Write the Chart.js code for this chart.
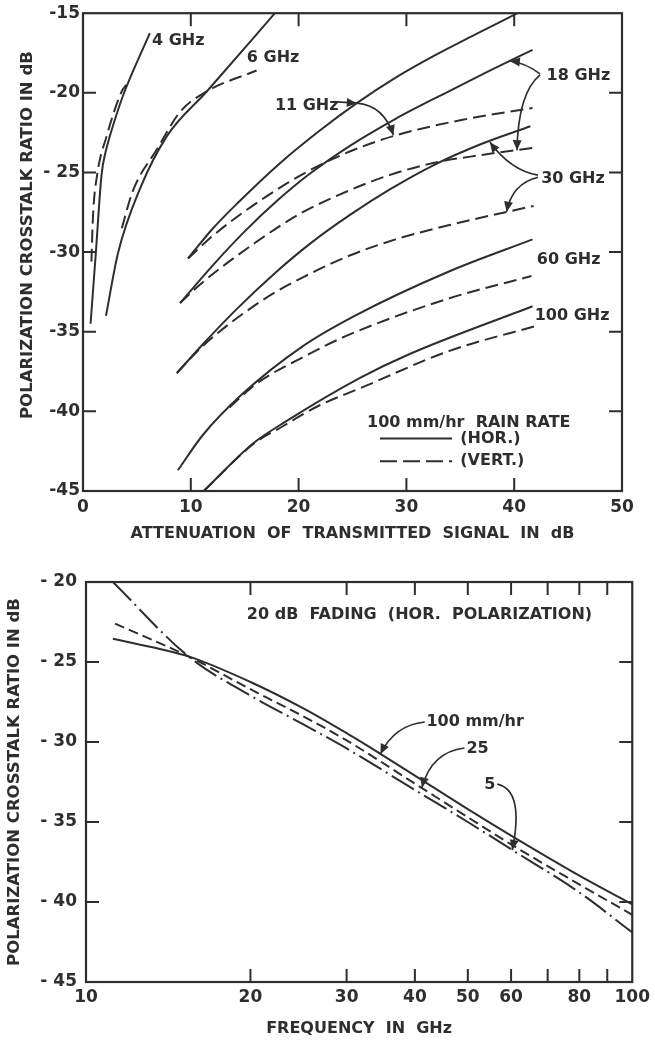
<!DOCTYPE html>
<html>
<head>
<meta charset="utf-8">
<script src="https://cdn.jsdelivr.net/npm/chart.js@4/dist/chart.umd.min.js"></script>
<style>
  html, body { margin: 0; padding: 0; background: #ffffff; }
  #wrap { position: relative; width: 655px; height: 1040px; }
  .panel { position: absolute; left: 0; width: 655px; }
</style>
</head>
<body>
<div id="wrap">
  <div class="panel" style="top:0;height:550px"><canvas id="attChart" width="655" height="550"></canvas></div>
  <div class="panel" style="top:550px;height:490px"><canvas id="freqChart" width="655" height="490"></canvas></div>
</div>
<script>
// ---------- Upper panel: crosstalk vs. attenuation, 100 mm/hr rain ----------
// H = horizontal polarization (solid), V = vertical polarization (dashed)
const att4H   = [0.7, 1.18, 1.72, 2.1, 2.5, 3.7, 6.2];
const xpd4H   = [-34.5, -30.15, -25.15, -23.7, -22.7, -20.2, -16.25];
const att4V   = [0.78, 0.93, 1.3, 2.2, 3.6, 4.0];
const xpd4V   = [-30.6, -27.7, -25.2, -22.7, -19.9, -19.5];
const att6H   = [2.13, 3.25, 5.3, 7.8, 11.5, 17.8];
const xpd6H   = [-34.0, -30.05, -26.0, -22.7, -19.9, -15.0];
const att6V   = [3.6, 4.6, 6.9, 9.0, 11.5, 16.1];
const xpd6V   = [-28.5, -26.2, -23.5, -21.2, -19.9, -18.6];
const att11H  = [9.74, 12.0, 14.3, 18.3, 22.0, 25.4, 29.0, 32.5, 36.5, 40.3];
const xpd11H  = [-30.4, -28.55, -26.95, -24.4, -22.35, -20.65, -19.05, -17.7, -16.3, -15.0];
const att11V  = [9.74, 12.0, 15.0, 18.9, 21.7, 24.8, 28.8, 35.0, 41.7];
const xpd11V  = [-30.4, -29.0, -27.44, -25.69, -24.63, -23.67, -22.71, -21.72, -20.95];
const att18H  = [9.0, 12.0, 15.0, 18.0, 21.0, 24.8, 29.0, 33.8, 37.5, 41.7];
const xpd18H  = [-33.2, -30.86, -28.7, -26.78, -25.1, -23.31, -21.63, -19.95, -18.69, -17.3];
const att18V  = [9.0, 11.0, 16.0, 20.1, 24.8, 28.5, 32.5, 37.0, 41.8];
const xpd18V  = [-33.2, -31.95, -29.4, -27.6, -26.1, -25.15, -24.4, -23.9, -23.45];
const att30H  = [8.7, 11.1, 14.3, 18.0, 21.1, 24.8, 28.5, 32.5, 37.0, 41.5];
const xpd30H  = [-37.6, -35.8, -33.55, -31.2, -29.45, -27.65, -26.05, -24.55, -23.2, -22.1];
const att30V  = [8.7, 11.1, 16.7, 20.5, 24.8, 29.0, 34.0, 41.8];
const xpd30V  = [-37.6, -35.9, -33.0, -31.55, -30.2, -29.2, -28.3, -27.1];
const att60H  = [8.8, 11.1, 14.8, 20.4, 25.2, 34.0, 41.7];
const xpd60H  = [-43.7, -41.5, -38.9, -35.9, -34.0, -31.2, -29.2];
const att60V  = [13.6, 16.0, 20.4, 24.8, 34.0, 41.6];
const xpd60V  = [-39.75, -38.3, -36.6, -35.15, -32.9, -31.5];
const att100H = [11.2, 15.8, 18.9, 25.7, 30.3, 41.7];
const xpd100H = [-45.0, -42.0, -40.6, -37.9, -36.4, -33.4];
const att100V = [11.2, 15.8, 18.5, 22.0, 25.7, 34.0, 42.2];
const xpd100V = [-45.0, -42.05, -40.95, -39.6, -38.55, -36.2, -34.6];

const attTicks   = [0, 10, 20, 30, 40, 50];
const attLabels  = ['0', '10', '20', '30', '40', '50'];
const xpdTicksA  = [-45, -40, -35, -30, -25, -20, -15];
const xpdLabelsA = ['-45', '-40', '-35', '-30', '- 25', '-20', '-15'];

// ---------- Lower panel: crosstalk vs. frequency, 20 dB fading (hor.) ----------
const freq100 = [11.2, 15.4, 20, 25, 30, 35, 40, 50, 60, 80, 100];
const xpdR100 = [-23.55, -24.65, -26.25, -27.9, -29.45, -30.85, -32.1, -34.2, -35.85, -38.35, -40.15];
const freq25  = [11.3, 15.4, 20, 25, 30, 40, 50, 60, 80, 100];
const xpdR25  = [-22.6, -24.65, -26.7, -28.4, -29.9, -32.6, -34.7, -36.4, -38.9, -40.8];
const freq5   = [11.2, 15.4, 20, 25, 30, 40, 50, 60, 80, 100];
const xpdR5   = [-20.0, -24.65, -27.1, -28.9, -30.4, -33.0, -35.0, -36.7, -39.4, -41.9];

const freqTicks  = [10, 20, 30, 40, 50, 60, 70, 80, 90, 100];
const freqLabels = ['10', '20', '30', '40', '50', '60', '', '80', '', '100'];
const xpdTicksB  = [-45, -40, -35, -30, -25, -20];
const xpdLabelsB = ['- 45', '- 40', '- 35', '- 30', '- 25', '- 20'];

// ---------- shared styling ----------
const INK = '#2e2e2e';
const FONT = '"DejaVu Sans", Verdana, sans-serif';
const DASH_A = [13, 6];
const DASH_B = [10, 5];
const DASH_DOT = [26, 5, 2, 5];
const tickFont = { family: FONT, size: 17, weight: 'bold' };
const titleFont = { family: FONT, size: 16, weight: 'bold' };

const pts = (xs, ys) => xs.map((v, i) => ({ x: v, y: ys[i] }));
function curve(xs, ys, dash) {
  return {
    data: pts(xs, ys), borderColor: INK, borderWidth: 2, borderDash: dash || [],
    pointRadius: 0, fill: false, cubicInterpolationMode: 'monotone'
  };
}

function axis(type, ticks, labels, pos, size, pad, title) {
  const s = {
    type, position: pos, min: ticks[0], max: ticks[ticks.length - 1],
    afterBuildTicks: sc => { sc.ticks = ticks.map(v => ({ value: v })); },
    afterFit: sc => { if (pos === 'left') sc.width = size; else sc.height = size; },
    ticks: {
      autoSkip: false, maxRotation: 0, padding: pad, color: INK, font: tickFont,
      callback: v => { const i = ticks.indexOf(v); return i < 0 ? '' : labels[i]; }
    },
    grid: { display: false, drawTicks: false },
    border: { display: false }
  };
  if (title) s.title = { display: true, text: title.text, color: INK, font: titleFont, padding: { top: 0, bottom: title.pb } };
  return s;
}

// Frame, inward tick marks, curve labels, leader arrows, key and vertical axis title
const decor = {
  id: 'decor',
  afterDatasetsDraw(chart, args, o) {
    const { ctx, chartArea: a, scales: { x, y } } = chart;
    const X = v => x.getPixelForValue(v);
    const Y = v => y.getPixelForValue(v);
    ctx.save();
    ctx.strokeStyle = INK; ctx.fillStyle = INK; ctx.lineCap = 'butt';

    ctx.lineWidth = 2.2;
    ctx.strokeRect(a.left, a.top, a.right - a.left, a.bottom - a.top);

    ctx.lineWidth = 2;
    ctx.beginPath();
    x.ticks.forEach(t => {
      if (t.value <= x.min || t.value >= x.max) return;
      const px = X(t.value);
      ctx.moveTo(px, a.bottom); ctx.lineTo(px, a.bottom - o.tick);
      ctx.moveTo(px, a.top); ctx.lineTo(px, a.top + o.tick);
    });
    y.ticks.forEach(t => {
      if (t.value <= y.min || t.value >= y.max) return;
      const py = Y(t.value);
      ctx.moveTo(a.left, py); ctx.lineTo(a.left + o.tick, py);
      ctx.moveTo(a.right, py); ctx.lineTo(a.right - o.tick, py);
    });
    ctx.stroke();

    (o.keys || []).forEach(k => {
      ctx.lineWidth = 2; ctx.setLineDash(k.dash);
      ctx.beginPath(); ctx.moveTo(X(k.x1), Y(k.y)); ctx.lineTo(X(k.x2), Y(k.y)); ctx.stroke();
    });
    ctx.setLineDash([]);

    (o.leaders || []).forEach(l => {
      const p0 = [X(l.from[0]), Y(l.from[1])];
      const c = [X(l.ctrl[0]), Y(l.ctrl[1])];
      const p1 = [X(l.to[0]), Y(l.to[1])];
      ctx.lineWidth = 1.7;
      ctx.beginPath(); ctx.moveTo(p0[0], p0[1]); ctx.quadraticCurveTo(c[0], c[1], p1[0], p1[1]); ctx.stroke();
      const ang = Math.atan2(p1[1] - c[1], p1[0] - c[0]);
      const L = 10, W = 4.5;
      ctx.beginPath();
      ctx.moveTo(p1[0], p1[1]);
      ctx.lineTo(p1[0] - L * Math.cos(ang) + W * Math.sin(ang), p1[1] - L * Math.sin(ang) - W * Math.cos(ang));
      ctx.lineTo(p1[0] - L * Math.cos(ang) - W * Math.sin(ang), p1[1] - L * Math.sin(ang) + W * Math.cos(ang));
      ctx.closePath(); ctx.fill();
    });

    ctx.font = `bold 16px ${FONT}`;
    ctx.textBaseline = 'middle'; ctx.textAlign = 'left';
    (o.labels || []).forEach(l => ctx.fillText(l.text, X(l.x), Y(l.y)));

    const t = o.yTitle;
    ctx.save();
    ctx.font = `bold 16.5px ${FONT}`;
    ctx.translate(a.left + t.dx, (a.top + a.bottom) / 2 + t.dy);
    ctx.rotate(-Math.PI / 2);
    ctx.textAlign = 'center';
    ctx.fillText(t.text, 0, 0);
    ctx.restore();

    ctx.restore();
  }
};

const common = {
  responsive: false, animation: false, devicePixelRatio: 1,
  events: [],
  elements: { point: { radius: 0 } }
};

// ---------- upper chart ----------
new Chart(document.getElementById('attChart'), {
  type: 'line',
  data: {
    datasets: [
      curve(att4H, xpd4H), curve(att4V, xpd4V, DASH_A),
      curve(att6H, xpd6H), curve(att6V, xpd6V, DASH_A),
      curve(att11H, xpd11H), curve(att11V, xpd11V, DASH_A),
      curve(att18H, xpd18H), curve(att18V, xpd18V, DASH_A),
      curve(att30H, xpd30H), curve(att30V, xpd30V, DASH_A),
      curve(att60H, xpd60H), curve(att60V, xpd60V, DASH_A),
      curve(att100H, xpd100H), curve(att100V, xpd100V, DASH_A)
    ]
  },
  options: Object.assign({}, common, {
    layout: { padding: { top: 10, right: 33, left: 0, bottom: 0 } },
    scales: {
      x: axis('linear', attTicks, attLabels, 'bottom', 59, 6,
        { text: 'ATTENUATION  OF  TRANSMITTED  SIGNAL  IN  dB', pb: 7 }),
      y: axis('linear', xpdTicksA, xpdLabelsA, 'left', 83, 3)
    },
    plugins: {
      legend: { display: false }, tooltip: { enabled: false },
      decor: {
        tick: 13,
        yTitle: { text: 'POLARIZATION CROSSTALK RATIO IN dB', dx: -55, dy: -17 },
        labels: [
          { text: '4 GHz', x: 6.4, y: -16.75 },
          { text: '6 GHz', x: 15.2, y: -17.8 },
          { text: '11 GHz', x: 17.8, y: -20.8 },
          { text: '18 GHz', x: 43.0, y: -18.93 },
          { text: '30 GHz', x: 42.5, y: -25.4 },
          { text: '60 GHz', x: 42.1, y: -30.5 },
          { text: '100 GHz', x: 41.9, y: -34.0 },
          { text: '100 mm/hr  RAIN RATE', x: 26.35, y: -40.7 },
          { text: '(HOR.)', x: 35.0, y: -41.7 },
          { text: '(VERT.)', x: 35.0, y: -43.13 }
        ],
        keys: [
          { x1: 27.55, x2: 34.23, y: -41.7, dash: [] },
          { x1: 27.55, x2: 34.23, y: -43.13, dash: [17, 6] }
        ],
        leaders: [
          { from: [23.2, -20.55], ctrl: [24.3, -20.6], to: [25.4, -20.65] },
          { from: [25.4, -20.65], ctrl: [27.9, -20.8], to: [28.8, -22.66] },
          { from: [42.4, -18.81], ctrl: [41.0, -18.1], to: [39.6, -18.0] },
          { from: [42.4, -18.87], ctrl: [40.36, -20.0], to: [40.26, -23.6] },
          { from: [42.2, -25.17], ctrl: [39.66, -24.86], to: [37.75, -23.1] },
          { from: [42.2, -25.3], ctrl: [39.8, -25.7], to: [39.3, -27.46] }
        ]
      }
    }
  }),
  plugins: [decor]
});

// ---------- lower chart ----------
new Chart(document.getElementById('freqChart'), {
  type: 'line',
  data: {
    datasets: [
      curve(freq100, xpdR100),
      curve(freq25, xpdR25, DASH_B),
      curve(freq5, xpdR5, DASH_DOT)
    ]
  },
  options: Object.assign({}, common, {
    layout: { padding: { top: 32, right: 22, left: 0, bottom: 0 } },
    scales: {
      x: axis('logarithmic', freqTicks, freqLabels, 'bottom', 58, 5,
        { text: 'FREQUENCY  IN  GHz', pb: 2 }),
      y: axis('linear', xpdTicksB, xpdLabelsB, 'left', 86, 9)
    },
    plugins: {
      legend: { display: false }, tooltip: { enabled: false },
      decor: {
        tick: 13,
        yTitle: { text: 'POLARIZATION CROSSTALK RATIO IN dB', dx: -71, dy: 0 },
        labels: [
          { text: '20 dB  FADING  (HOR.  POLARIZATION)', x: 19.7, y: -22.06 },
          { text: '100 mm/hr', x: 42.0, y: -28.75 },
          { text: '25', x: 49.7, y: -30.4 },
          { text: '5', x: 53.6, y: -32.7 }
        ],
        leaders: [
          { from: [41.7, -28.75], ctrl: [36.7, -28.94], to: [34.6, -30.75] },
          { from: [49.3, -30.375], ctrl: [42.9, -30.625], to: [41.2, -32.85] },
          { from: [56.6, -32.63], ctrl: [63.5, -33.0], to: [60.3, -36.75] }
        ]
      }
    }
  }),
  plugins: [decor]
});
</script>
</body>
</html>
